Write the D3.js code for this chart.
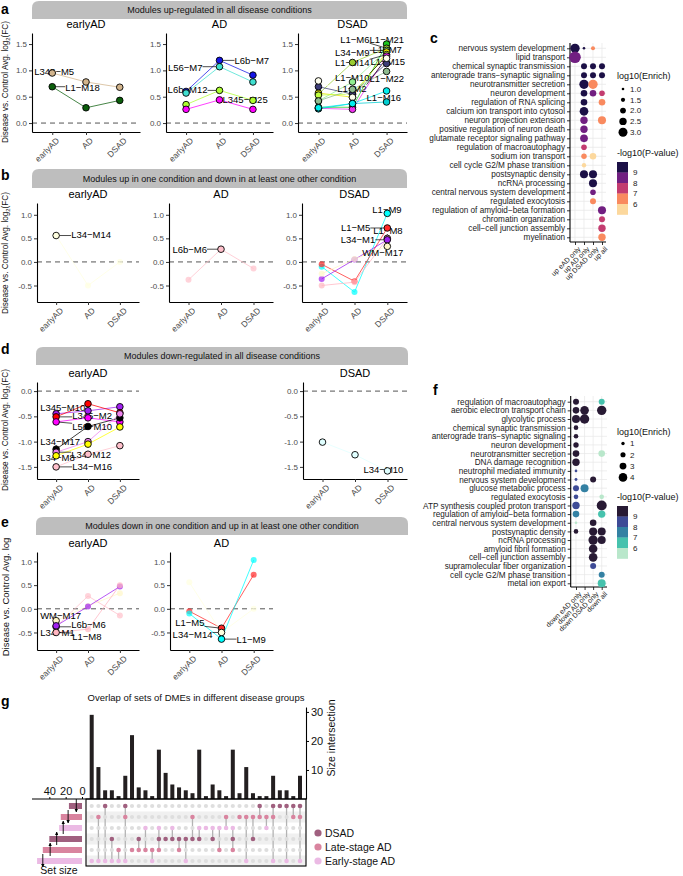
<!DOCTYPE html>
<html>
<head>
<meta charset="utf-8">
<script src="https://cdn.jsdelivr.net/npm/d3@7"></script>
<style>
html,body{margin:0;padding:0;background:#fff;}
svg{display:block;font-family:"Liberation Sans",Arial,Helvetica,sans-serif;}
</style>
</head>
<body>
<svg id="fig" width="683" height="876" viewBox="0 0 683 876"></svg>
<script>
// ======================= DATA =======================
const conditions = ["earlyAD", "AD", "DSAD"];

const moduleNames = ["L345−M5","L1−M18","L6b−M7","L56−M7","L6b−M12","L345−M25",
  "L1−M21","L1−M6","L34−M9","L1−M7","L1−M14","L1−M15","L1−M10","L1−M22","L1−M2","L1−M16","L1−M1",
  "L34−M14","L6b−M6","L1−M9","L1−M5","L1−M8","L34−M1","WM−M17",
  "L345−M10","L345−M2","L56−M10","L34−M17","L34−M12","L34−M8","L34−M16","L34−M10"];
const moduleColors = ["#d2b48c","#0b5e0b","#1515e6","#40e0d0","#adff2f","#ff00ff",
  "#1ec81e","#9acd32","#90ee90","#e8e800","#c0ff3e","#3c3c78","#ee30ee","#8fbc8f","#fffff0","#00ced1","#00eeee",
  "#ffffe0","#ffc0cb","#00ffff","#ff2a2a","#ffb6c1","#a020f0","#fff6c8",
  "#a020f0","#ff0000","#ff00ff","#000000","#ee82ee","#ffff00","#ffc0cb","#e0ffff"];
const fcEarlyAD = [0.95,0.69,0.60,0.57,0.35,0.26, 0.30,0.55,0.42,0.57,0.53,0.69,0.28,0.42,0.80,0.27,0.29,
  0.56,-0.38,-0.10,-0.05,-0.50,-0.36,-0.25, -0.45,-0.51,-0.61,-1.15,-1.21,-1.28,-1.50,-1.01];
const fcAD = [0.78,0.29,1.19,1.07,0.62,0.44, 0.30,1.15,0.78,0.49,0.55,0.55,0.26,0.64,0.49,0.37,0.37,
  -0.50,0.27,-0.64,-0.41,-0.43,0.05,0.06, -0.39,-0.25,-0.53,-0.70,-1.00,-1.05,-1.25,-1.26];
const fcDSAD = [0.68,0.43,0.91,0.78,0.43,0.26, 1.50,1.42,1.38,1.35,1.30,1.13,1.27,0.98,1.23,0.40,0.61,
  0.00,-0.14,1.03,0.72,0.50,0.47,0.33, -0.31,-0.43,-0.61,-0.53,-0.45,-0.71,-1.08,-1.58];

const facetUpAll_early = ["L345−M5","L1−M18"];
const facetUpAll_AD = ["L6b−M7","L56−M7","L6b−M12","L345−M25"];
const facetUpAll_DSAD = ["L1−M21","L1−M6","L34−M9","L1−M7","L1−M14","L1−M15","L1−M10","L1−M22","L1−M2","L1−M16","L1−M1"];
const facetUpOne_early = ["L34−M14"];
const facetUpOne_AD = ["L6b−M6"];
const facetUpOne_DSAD = ["L1−M9","L1−M5","L1−M8","L34−M1","WM−M17"];
const facetDownAll_early = ["L345−M10","L345−M2","L56−M10","L34−M17","L34−M12","L34−M8","L34−M16"];
const facetDownAll_DSAD = ["L34−M10"];
const facetDownOne_early = ["WM−M17","L6b−M6","L34−M1","L1−M8"];
const facetDownOne_AD = ["L1−M5","L34−M14","L1−M9"];

const stripTitles = ["Modules up-regulated in all disease conditions",
  "Modules up in one condition and down in at least one other condition",
  "Modules down-regulated in all disease conditions",
  "Modules down in one condition and up in at least one other condition"];

// GO enrichment (panel c)
const cTerms = ["nervous system development","lipid transport","chemical synaptic transmission",
  "anterograde trans−synaptic signaling","neurotransmitter secretion","neuron development",
  "regulation of RNA splicing","calcium ion transport into cytosol","neuron projection extension",
  "positive regulation of neuron death","glutamate receptor signaling pathway","regulation of macroautophagy",
  "sodium ion transport","cell cycle G2/M phase transition","postsynaptic density","ncRNA processing",
  "central nervous system development","regulated exocytosis","regulation of amyloid−beta formation",
  "chromatin organization","cell−cell junction assembly","myelination"];
const cGroups = ["up eAD only","up AD only","up DSAD only","up all"];
// [term, group, log10(Enrich), -log10(P)]
const cDots = [[0,0,3.1,9.5],[0,1,1.0,9.5],[0,2,1.44,6.5],[1,0,3.8,8.5],
  [2,1,2.06,9.5],[2,2,2.06,9.5],[2,3,2.06,9.5],[3,1,2.06,9.5],[3,2,2.06,9.5],[3,3,2.06,9.5],
  [4,1,3.1,9.5],[4,2,3.1,6.5],[5,1,2.25,9.5],[5,2,2.25,8.5],[5,3,1.94,7.5],
  [6,1,2.25,9.5],[6,3,2.25,6.5],[7,1,2.9,9.5],[8,1,2.5,8.5],[8,3,2.7,6.5],
  [9,1,2.5,8.5],[10,1,2.6,8.5],[11,1,1.94,7.5],[12,1,1.9,6.5],[12,2,2.25,5.5],
  [13,1,1.56,5.5],[14,1,2.7,9.5],[14,2,2.7,9.5],[15,2,2.7,9.5],[16,2,1.94,8.5],
  [17,2,2.06,6.5],[18,3,2.7,8.5],[19,3,2.06,7.5],[20,3,2.5,7.5],[21,3,2.5,6.5]];
const cSizeBreaks = [1.0,1.5,2.0,2.5,3.0];
const cColors = ["#fcd89d","#f98a5f","#c33c70","#711f81","#1c1046"];

// GO enrichment (panel f)
const fTerms = ["regulation of macroautophagy","aerobic electron transport chain","glycolytic process",
  "chemical synaptic transmission","anterograde trans−synaptic signaling","neuron development",
  "neurotransmitter secretion","DNA damage recognition","neutrophil mediated immunity",
  "nervous system development","glucose metabolic process","regulated exocytosis",
  "ATP synthesis coupled proton transport","regulation of amyloid−beta formation",
  "central nervous system development","postsynaptic density","ncRNA processing",
  "amyloid fibril formation","cell−cell junction assembly","supramolecular fiber organization",
  "cell cycle G2/M phase transition","metal ion export"];
const fGroups = ["down eAD only","down AD only","down DSAD only","down all"];
const fDots = [[0,0,2.5,9.5],[0,3,2.5,6.5],[1,0,2.84,9.5],[1,1,4.0,9.5],[1,3,4.45,9.5],
  [2,0,3.65,9.5],[2,1,4.45,9.5],[3,0,1.7,9.5],[4,0,1.7,9.5],[5,0,2.15,9.5],
  [6,0,2.84,9.5],[6,3,2.84,5.5],[7,0,3.3,9.5],[8,0,0.55,8.5],[9,0,0.7,8.5],[9,2,2.5,9.5],
  [10,0,2.5,8.5],[10,1,3.65,7.5],[11,0,1.7,8.5],[11,3,1.7,5.5],[12,0,3.3,8.5],[12,3,4.8,9.5],
  [13,0,2.84,7.5],[13,3,3.3,6.5],[14,0,0.55,5.5],[14,2,2.84,9.5],
  [15,0,1.7,9.5],[15,2,3.65,9.5],[15,3,3.65,9.5],[16,2,4.45,9.5],[16,3,3.65,9.5],
  [17,2,4.0,9.5],[18,2,4.0,9.5],[19,2,2.5,8.5],[20,3,2.5,7.5],[21,3,3.65,6.5]];
const fSizeBreaks = [1,2,3,4];
const fColors = ["#b9e7cb","#46c2ad","#3481a3","#3e4b96","#281a34"];

const pBreaks = [6,7,8,9];

// UpSet (panel g)
const upsetSizes = [29,11,3,3,1,8,22,4,3,1,17,9,5,4,3,2,17,1,5,3,1,17,2,11,2,1,1,8,3,3,1,8];
const upsetMembers = [[5],[1,5],[0,5],[3,5],[4,5],[0,1,5],[4],[3,4],[2,4],[4,5],[2,3,4],[3],[2,3],[3,4],
  [3,5],[1,3],[2,3],[2],[2,3],[2,4],[1,2],[2,3,4],[1],[1,5],[1,3],[0,1],[1,2],[0,1,5],[0],[0,5],[0,1],[0,1,5]];
const setGroups = ["DSAD","Late-stage AD","Early-stage AD","DSAD","Late-stage AD","Early-stage AD"];
const setSizes = [16,26,28,40,48,55];
const setMarkerAt = [7,17,23,31,39,48];
const setMarkerDir = ["down","down","up","up","up","down"];
const legendGroups = ["DSAD","Late-stage AD","Early-stage AD"];
const groupColors = ["#a0607f","#d9849f","#ebbae4"];
const upTicks = [10,20,30];
const setTicks = [0,20,40];

// ======================= DRAWING =======================
const svg = d3.select("#fig");
const fcByCond = [fcEarlyAD, fcAD, fcDSAD];
const idx = n => moduleNames.indexOf(n);

const defs = svg.append("defs");
defs.append("marker").attr("id","arr").attr("viewBox","0 0 10 10").attr("refX",9).attr("refY",5)
  .attr("markerWidth",4).attr("markerHeight",4).attr("orient","auto-start-reverse")
  .append("path").attr("d","M0,0L10,5L0,10Z").attr("fill","#000");

function panelLetter(t,x,y){
  svg.append("text").attr("x",x).attr("y",y).attr("font-size",14).attr("font-weight","bold").text(t);
}
function strip(x0,x1,y0,y1,text){
  const r=7;
  svg.append("path").attr("d",`M${x0},${y1}V${y0+r}Q${x0},${y0} ${x0+r},${y0}H${x1-r}Q${x1},${y0} ${x1},${y0+r}V${y1}Z`)
    .attr("fill","#bebebe");
  svg.append("text").attr("x",(x0+x1)/2).attr("y",(y0+y1)/2).attr("dy","0.35em")
    .attr("text-anchor","middle").attr("font-size",9).attr("fill","#111").text(text);
}
function yTitle(cx,cy,full,fs){
  const t = svg.append("text").attr("transform",`translate(${cx},${cy}) rotate(-90)`)
    .attr("text-anchor","middle").attr("font-size",fs).attr("fill","#111");
  t.append("tspan").text("Disease vs. Control Avg. log");
  if(full){
    t.append("tspan").attr("font-size",fs*0.7).attr("dy",fs*0.3).text("2");
    t.append("tspan").attr("dy",-fs*0.3).text("(FC)");
  }
}

function facet(cfg){
  const g = svg.append("g");
  const x = d3.scalePoint().domain(conditions).range([cfg.x0,cfg.x1]).padding(0.6);
  const y = d3.scaleLinear().domain(cfg.domain).range([cfg.bottom,cfg.top]);
  g.append("text").attr("x",(cfg.x0+cfg.x1)/2).attr("y",cfg.top-5).attr("text-anchor","middle")
    .attr("font-size",11).attr("fill","#000").text(cfg.title);
  g.append("line").attr("x1",cfg.x0).attr("x2",cfg.x1).attr("y1",y(0)).attr("y2",y(0))
    .attr("stroke","#555").attr("stroke-width",1).attr("stroke-dasharray","5,4");
  const ya = g.append("g").attr("transform",`translate(${cfg.x0},0)`)
    .call(d3.axisLeft(y).tickValues(cfg.ticks).tickSize(3).tickPadding(2).tickSizeOuter(0).tickFormat(d=>d.toFixed(1)));
  const xa = g.append("g").attr("transform",`translate(0,${cfg.bottom})`)
    .call(d3.axisBottom(x).tickSize(3).tickSizeOuter(0));
  [ya,xa].forEach(a=>{
    a.select(".domain").attr("stroke","#000").attr("stroke-width",1.1);
    a.selectAll(".tick line").attr("stroke","#333");
    a.selectAll("text").attr("fill","#4d4d4d").attr("font-family",null);
  });
  ya.selectAll("text").attr("font-size",8);
  xa.selectAll("text").attr("font-size",8.5).attr("text-anchor","end").attr("y",0).attr("dy","0.7em")
    .attr("transform","translate(3,5) rotate(-45)");

  const mods = cfg.members.map(idx);
  const lineGen = d3.line().x((v,i)=>x(conditions[i])).y(v=>y(v));
  g.selectAll(".ln").data(mods).join("path")
    .attr("d",m=>lineGen(fcByCond.map(a=>a[m]))).attr("fill","none")
    .attr("stroke",m=>moduleColors[m]).attr("stroke-width",1).attr("stroke-opacity",0.75);
  const pts = [];
  mods.forEach(m=>conditions.forEach((c,ci)=>pts.push({m,ci,v:fcByCond[ci][m]})));
  const faded = pts.filter(p=>!(cfg.outlineAll || p.ci===cfg.hi));
  const strong = pts.filter(p=>(cfg.outlineAll || p.ci===cfg.hi));
  g.selectAll(".fp").data(faded).join("circle").attr("cx",p=>x(conditions[p.ci])).attr("cy",p=>y(p.v))
    .attr("r",3).attr("fill",p=>moduleColors[p.m]).attr("fill-opacity",0.7);
  const segG = g.append("g"), labG = g.append("g");
  cfg.labels.forEach(([name,anchor,dx,lv])=>{
    const m = idx(name);
    const px = x(conditions[cfg.hi]), py = y(fcByCond[cfg.hi][m]);
    const t = labG.append("text").attr("x",px+dx).attr("y",y(lv)).attr("dy","0.35em")
      .attr("text-anchor",anchor==="e"?"end":"start").attr("font-size",9.5).attr("fill","#000").text(name);
    const bb = t.node().getBBox();
    const nx = Math.max(bb.x, Math.min(px, bb.x+bb.width));
    const ny = Math.max(bb.y+2, Math.min(py, bb.y+bb.height-2));
    if(Math.hypot(nx-px,ny-py) > 4){
      segG.append("line").attr("x1",px).attr("y1",py).attr("x2",nx).attr("y2",ny)
        .attr("stroke","#000").attr("stroke-width",0.7);
    }
  });
  g.selectAll(".sp").data(strong).join("circle").attr("cx",p=>x(conditions[p.ci])).attr("cy",p=>y(p.v))
    .attr("r",3.3).attr("fill",p=>moduleColors[p.m]).attr("stroke","#000").attr("stroke-width",0.9);
}

// ---- Panel a ----
panelLetter("a",1,14);
strip(32,407,1,19,stripTitles[0]);
yTitle(8,82,true,8.2);
facet({title:"earlyAD",hi:0,members:facetUpAll_early,x0:32,x1:140,top:33,bottom:132,domain:[-0.17,1.71],ticks:[0,0.5,1,1.5],outlineAll:true,
  labels:[["L345−M5","s",-18,0.97],["L1−M18","s",13,0.68]]});
facet({title:"AD",hi:1,members:facetUpAll_AD,x0:166,x1:273,top:33,bottom:132,domain:[-0.17,1.71],ticks:[0,0.5,1,1.5],outlineAll:true,
  labels:[["L56−M7","e",-17,1.06],["L6b−M7","s",15,1.18],["L6b−M12","e",-12,0.63],["L345−M25","s",3,0.44]]});
facet({title:"DSAD",hi:2,members:facetUpAll_DSAD,x0:298,x1:407,top:33,bottom:132,domain:[-0.17,1.71],ticks:[0,0.5,1,1.5],outlineAll:true,
  labels:[["L1−M6","e",-17,1.58],["L1−M21","s",-17,1.58],["L34−M9","e",-17,1.34],["L1−M7","s",-14,1.39],
    ["L1−M14","e",-17,1.14],["L1−M15","s",-16,1.16],["L1−M10","e",-17,0.87],["L1−M22","s",-17,0.85],
    ["L1−M2","e",-20,0.66],["L1−M16","s",-20,0.49]]});

// ---- Panel b ----
panelLetter("b",1,180);
strip(32,407,169,188,stripTitles[1]);
yTitle(8,253,true,8.2);
facet({title:"earlyAD",hi:0,members:facetUpOne_early,x0:37,x1:139,top:203,bottom:302,domain:[-0.85,1.25],ticks:[-0.5,0,0.5,1],outlineAll:false,
  labels:[["L34−M14","s",15,0.57]]});
facet({title:"AD",hi:1,members:facetUpOne_AD,x0:169,x1:273,top:203,bottom:302,domain:[-0.85,1.25],ticks:[-0.5,0,0.5,1],outlineAll:false,
  labels:[["L6b−M6","e",-14,0.25]]});
facet({title:"DSAD",hi:2,members:facetUpOne_DSAD,x0:302,x1:407,top:203,bottom:302,domain:[-0.85,1.25],ticks:[-0.5,0,0.5,1],outlineAll:false,
  labels:[["L1−M9","s",-15,1.1],["L1−M5","e",-17,0.72],["L1−M8","s",-14,0.66],["L34−M1","e",-12,0.47],["WM−M17","s",-25,0.19]]});

// ---- Panel d ----
panelLetter("d",1,354);
strip(36,408,347,365,stripTitles[2]);
yTitle(8,430,true,8.2);
facet({title:"earlyAD",hi:0,members:facetDownAll_early,x0:37,x1:139,top:382,bottom:479,domain:[-1.74,0.18],ticks:[-1.5,-1,-0.5,0],outlineAll:true,
  labels:[["L345−M10","s",-16,-0.32],["L345−M2","s",16,-0.49],["L56−M10","s",16,-0.71],["L34−M17","s",-16,-1.0],
    ["L34−M8","s",-16,-1.32],["L34−M12","s",15,-1.26],["L34−M16","s",16,-1.5]]});
facet({title:"DSAD",hi:2,members:facetDownAll_DSAD,x0:303,x1:407,top:382,bottom:479,domain:[-1.74,0.18],ticks:[-1.5,-1,-0.5,0],outlineAll:true,
  labels:[["L34−M10","s",-24,-1.56]]});

// ---- Panel e ----
panelLetter("e",1,527);
strip(36,408,517,535,stripTitles[3]);
yTitle(9,597,false,9.5);
facet({title:"earlyAD",hi:0,members:facetDownOne_early,x0:37,x1:139,top:552,bottom:650,domain:[-0.87,1.2],ticks:[-0.5,0,0.5,1],outlineAll:false,
  labels:[["WM−M17","s",-16,-0.15],["L6b−M6","s",15,-0.34],["L34−M1","s",-16,-0.51],["L1−M8","s",16,-0.59]]});
facet({title:"AD",hi:1,members:facetDownOne_AD,x0:170,x1:273,top:552,bottom:650,domain:[-0.87,1.2],ticks:[-0.5,0,0.5,1],outlineAll:false,
  labels:[["L1−M5","e",-17,-0.3],["L34−M14","e",-9,-0.55],["L1−M9","s",15,-0.66]]});

// ---- Dot plots c and f ----
function dotPanel(o){
  const g = svg.append("g");
  const yS = d3.scalePoint().domain(d3.range(o.terms.length)).range([o.y0,o.y1]);
  const xS = d3.scalePoint().domain(d3.range(o.groups.length)).range([o.c0,o.c1]);
  const col = d3.scaleThreshold().domain(pBreaks).range(o.colors);
  g.selectAll(".hg").data(d3.range(o.terms.length)).join("line")
    .attr("x1",o.ax).attr("x2",o.right).attr("y1",d=>yS(d)).attr("y2",d=>yS(d)).attr("stroke","#e6e6e6").attr("stroke-width",0.7);
  g.selectAll(".vg").data(d3.range(o.groups.length)).join("line")
    .attr("y1",o.top).attr("y2",o.bottom).attr("x1",d=>xS(d)).attr("x2",d=>xS(d)).attr("stroke","#e6e6e6").attr("stroke-width",0.7);
  const ya = g.append("g").attr("transform",`translate(${o.ax},0)`)
    .call(d3.axisLeft(yS).tickSize(3).tickPadding(2).tickSizeOuter(0).tickFormat(i=>o.terms[i]));
  const xa = g.append("g").attr("transform",`translate(0,${o.bottom})`)
    .call(d3.axisBottom(xS).tickSize(3).tickSizeOuter(0).tickFormat(i=>o.groups[i]));
  [ya,xa].forEach(a=>{a.select(".domain").remove(); a.selectAll(".tick line").attr("stroke","#333");
    a.selectAll("text").attr("fill","#1a1a1a").attr("font-family",null);});
  ya.selectAll("text").attr("font-size",8.2);
  xa.selectAll("text").attr("font-size",7).attr("text-anchor","end").attr("y",0).attr("dy","0.7em")
    .attr("transform","translate(2,4) rotate(-45)");
  g.append("line").attr("x1",o.ax).attr("x2",o.ax).attr("y1",o.top).attr("y2",o.bottom).attr("stroke","#000").attr("stroke-width",1.1);
  g.append("line").attr("x1",o.ax).attr("x2",o.right).attr("y1",o.bottom).attr("y2",o.bottom).attr("stroke","#000").attr("stroke-width",1.1);
  g.selectAll(".dot").data(o.dots).join("circle")
    .attr("cx",d=>xS(d[1])).attr("cy",d=>yS(d[0])).attr("r",d=>o.rS(d[2])).attr("fill",d=>col(d[3]));
  const lg = svg.append("g");
  lg.append("text").attr("x",o.lx).attr("y",o.ly).attr("font-size",9).attr("fill","#111").text("log10(Enrich)");
  o.sizeBreaks.forEach((b,i)=>{
    const yy = o.ly + o.sz0 + i*o.szStep;
    lg.append("circle").attr("cx",o.lx+6).attr("cy",yy).attr("r",o.rS(b)).attr("fill","#000");
    lg.append("text").attr("x",o.lx+13).attr("y",yy).attr("dy","0.35em").attr("font-size",8).attr("fill","#222")
      .text(o.sizeFmt(b));
  });
  const ct = o.ly + o.cbTitle;
  lg.append("text").attr("x",o.lx).attr("y",ct).attr("font-size",9).attr("fill","#111").text("-log10(P-value)");
  const cbTop = ct+6, binH = 10.5;
  const bins = o.colors.slice().reverse();
  bins.forEach((c,i)=>lg.append("rect").attr("x",o.lx).attr("y",cbTop+i*binH).attr("width",11).attr("height",binH+0.3).attr("fill",c));
  pBreaks.slice().reverse().forEach((b,i)=>lg.append("text").attr("x",o.lx+16).attr("y",cbTop+(i+1)*binH)
    .attr("dy","0.35em").attr("font-size",8).attr("fill","#222").text(b));
}
panelLetter("c",430,43);
const rC = d3.scaleLinear().domain([1,3]).range([1.3,4.5]);
dotPanel({terms:cTerms,groups:cGroups,dots:cDots,colors:cColors,rS:rC,sizeBreaks:cSizeBreaks,sizeFmt:d=>d.toFixed(1),
  y0:48.3,y1:237.3,c0:575,c1:602,ax:570,right:606,top:43,bottom:242,
  lx:617,ly:79,sz0:10,szStep:10.8,cbTitle:77});
panelLetter("f",433,395);
const rF = d3.scaleLinear().domain([1,4]).range([1.7,4.3]);
dotPanel({terms:fTerms,groups:fGroups,dots:fDots,colors:fColors,rS:rF,sizeBreaks:fSizeBreaks,sizeFmt:d=>d,
  y0:401.7,y1:583.3,c0:576,c1:601.7,ax:570.7,right:607,top:396,bottom:587,
  lx:617,ly:435,sz0:8.5,szStep:11.3,cbTitle:65});

// ---- Panel g: UpSet ----
panelLetter("g",1,706);
svg.append("text").attr("x",196).attr("y",701).attr("text-anchor","middle").attr("font-size",9.5).attr("fill","#111")
  .text("Overlap of sets of DMEs in different disease groups");
const ux = d3.scalePoint().domain(d3.range(upsetSizes.length)).range([91.7,300]);
const uy = d3.scaleLinear().domain([0,31.7]).range([799,707]);
const ry = d3.scalePoint().domain(d3.range(setSizes.length)).range([806,861]);
const sx = d3.scaleLinear().domain([0,60]).range([82,33]);
const gcol = g => groupColors[legendGroups.indexOf(g)];
const G = svg.append("g");
G.selectAll(".stripe").data([1,3,5]).join("rect").attr("x",86).attr("width",220)
  .attr("y",r=>ry(r)-5.5).attr("height",11).attr("fill","#f0f0f0");
G.selectAll(".bar").data(upsetSizes).join("rect").attr("x",(d,i)=>ux(i)-2).attr("width",4)
  .attr("y",d=>uy(d)).attr("height",d=>uy(0)-uy(d)).attr("fill","#231f20");
const uya = G.append("g").attr("transform","translate(306,0)")
  .call(d3.axisRight(uy).tickValues(upTicks).tickSize(3).tickPadding(2).tickSizeOuter(0));
uya.select(".domain").attr("stroke","#000").attr("stroke-width",1.1);
uya.selectAll("text").attr("font-size",11).attr("fill","#111").attr("font-family",null);
svg.append("text").attr("transform","translate(335,738) rotate(-90)").attr("text-anchor","middle")
  .attr("font-size",10.5).attr("fill","#111").text("Size intersection");
G.selectAll(".conn").data(upsetMembers).join("line").attr("x1",(d,i)=>ux(i)).attr("x2",(d,i)=>ux(i))
  .attr("y1",d=>ry(d3.min(d))).attr("y2",d=>ry(d3.max(d))).attr("stroke","#b3b3b3").attr("stroke-width",1.3);
const cells = [];
upsetMembers.forEach((mem,ci)=>setGroups.forEach((sg,ri)=>cells.push({ci,ri,on:mem.includes(ri)})));
G.selectAll(".cell").data(cells.filter(c=>!c.on)).join("circle").attr("cx",c=>ux(c.ci)).attr("cy",c=>ry(c.ri))
  .attr("r",2.1).attr("fill","#dedede");
G.selectAll(".cellOn").data(cells.filter(c=>c.on)).join("circle").attr("cx",c=>ux(c.ci)).attr("cy",c=>ry(c.ri))
  .attr("r",2.3).attr("fill",c=>gcol(setGroups[c.ri]));
G.append("rect").attr("x",86).attr("y",799).attr("width",220).attr("height",67).attr("fill","none").attr("stroke","#000").attr("stroke-width",1.1);
G.append("line").attr("x1",32).attr("x2",306).attr("y1",799).attr("y2",799).attr("stroke","#000").attr("stroke-width",1.1);
G.selectAll(".sbar").data(setSizes).join("rect").attr("x",d=>sx(d)).attr("width",d=>sx(0)-sx(d))
  .attr("y",(d,i)=>ry(i)-3).attr("height",6).attr("fill",(d,i)=>gcol(setGroups[i]));
G.selectAll(".smark").data(setMarkerAt).join("line").attr("x1",d=>sx(d)).attr("x2",d=>sx(d))
  .attr("y1",(d,i)=>setMarkerDir[i]==="down"?ry(i)-7:ry(i)+6).attr("y2",(d,i)=>setMarkerDir[i]==="down"?ry(i)+6:ry(i)-7)
  .attr("stroke","#000").attr("stroke-width",0.9).attr("marker-end","url(#arr)");
const sxa = G.append("g").attr("transform","translate(0,799)")
  .call(d3.axisTop(sx).tickValues(setTicks).tickSize(2).tickPadding(2).tickSizeOuter(0));
sxa.select(".domain").remove();
sxa.selectAll("text").attr("font-size",11).attr("fill","#111").attr("font-family",null);
svg.append("text").attr("x",59).attr("y",874).attr("text-anchor","middle").attr("font-size",10.5).attr("fill","#111").text("Set size");
legendGroups.forEach((lgName,i)=>{
  const yy = 833 + i*14;
  svg.append("circle").attr("cx",318).attr("cy",yy).attr("r",3.6).attr("fill",groupColors[i]);
  svg.append("text").attr("x",325).attr("y",yy).attr("dy","0.35em").attr("font-size",10.5).attr("fill","#111").text(lgName);
});
</script>
</body>
</html>
